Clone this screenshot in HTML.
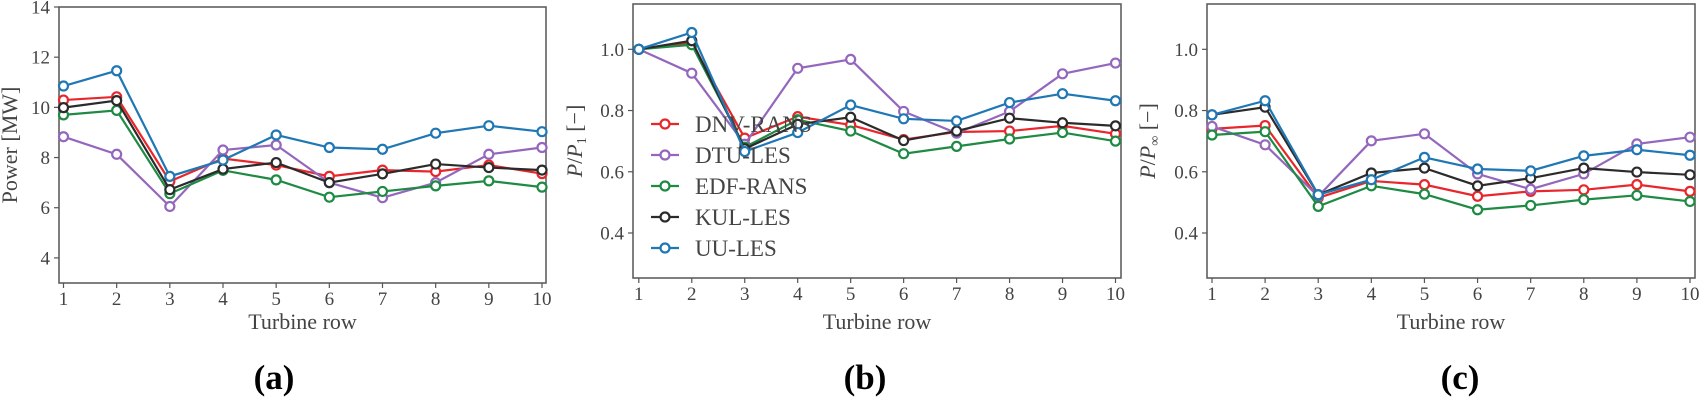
<!DOCTYPE html>
<html><head><meta charset="utf-8">
<style>
html,body{margin:0;padding:0;background:#fff;}
svg{display:block;font-family:"Liberation Serif","DejaVu Serif",serif;}
</style></head>
<body>
<svg id="fig" width="1706" height="408" viewBox="0 0 1706 408" xmlns="http://www.w3.org/2000/svg"></svg>
<script>
const rows = [1,2,3,4,5,6,7,8,9,10];
const seriesNames = ["DNV-RANS","DTU-LES","EDF-RANS","KUL-LES","UU-LES"];
const seriesColors = ["#e8262b","#9467bd","#1e8a44","#2b2b2b","#1f77b4"];
// panel (a): Power [MW]
const powerDNV = [10.29,10.42,7.05,7.96,7.7,7.25,7.5,7.44,7.7,7.36];
const powerDTU = [8.83,8.13,6.05,8.3,8.5,7.0,6.4,7.0,8.13,8.4];
const powerEDF = [9.7,9.88,6.56,7.49,7.11,6.42,6.65,6.87,7.07,6.82];
const powerKUL = [9.99,10.27,6.72,7.54,7.8,7.0,7.35,7.74,7.6,7.5];
const powerUU  = [10.85,11.46,7.25,7.9,8.9,8.4,8.33,8.97,9.27,9.03];
// panel (b): P/P1
const p1DNV = [1.0,1.02,0.71,0.78,0.753,0.705,0.73,0.733,0.75,0.724];
const p1DTU = [1.0,0.922,0.69,0.938,0.967,0.797,0.726,0.797,0.92,0.955];
const p1EDF = [1.0,1.015,0.68,0.77,0.733,0.659,0.683,0.707,0.728,0.70];
const p1KUL = [1.0,1.028,0.675,0.755,0.778,0.702,0.733,0.775,0.76,0.75];
const p1UU  = [1.0,1.055,0.666,0.728,0.818,0.773,0.766,0.826,0.855,0.832];
// panel (c): P/Pinf
const pinfDNV = [0.74,0.751,0.515,0.57,0.558,0.52,0.536,0.541,0.558,0.536];
const pinfDTU = [0.748,0.688,0.52,0.701,0.724,0.593,0.543,0.593,0.691,0.713];
const pinfEDF = [0.72,0.731,0.487,0.554,0.527,0.476,0.49,0.509,0.523,0.503];
const pinfKUL = [0.786,0.811,0.525,0.596,0.612,0.554,0.579,0.612,0.599,0.59];
const pinfUU  = [0.786,0.832,0.525,0.574,0.647,0.609,0.603,0.652,0.672,0.654];
const ticksA = [4,6,8,10,12,14];
const ticksB = [0.4,0.6,0.8,1.0];
const tickLabelsB = ["0.4","0.6","0.8","1.0"];

const NS="http://www.w3.org/2000/svg";
const svg=document.getElementById('fig');
function mk(tag,attrs,parent){const e=document.createElementNS(NS,tag);for(const k in attrs)e.setAttribute(k,attrs[k]);(parent||svg).appendChild(e);return e;}

function panel(cfg){
  const g=mk('g',{});
  
  
  const xS=v=>cfg.x1+(v-1)*(cfg.x10-cfg.x1)/9;
  const yS=v=>cfg.bottom-(v-cfg.ymin)*(cfg.bottom-cfg.top)/(cfg.ymax-cfg.ymin);
  const box=mk('rect',{x:cfg.left,y:cfg.top,width:cfg.right-cfg.left,height:cfg.bottom-cfg.top,fill:'none',stroke:'#555','stroke-width':1.5},g);
  
  
  rows.forEach(r=>{
    mk('line',{x1:xS(r),x2:xS(r),y1:cfg.bottom,y2:cfg.bottom+5,stroke:'#555','stroke-width':1.2},g);
    const t=mk('text',{x:xS(r),y:cfg.bottom+22,'font-size':19,'text-anchor':'middle',fill:'#444'},g);
    t.textContent=r;
    
    
  });
  cfg.ticks.forEach((v,i)=>{
    mk('line',{x1:cfg.left-5,x2:cfg.left,y1:yS(v),y2:yS(v),stroke:'#555','stroke-width':1.2},g);
    const t=mk('text',{x:cfg.left-9,y:yS(v)+6.5,'font-size':19,'text-anchor':'end',fill:'#444'},g);
    t.textContent=cfg.tickLabels[i];
    
    
  });
  const xl=mk('text',{x:(cfg.left+cfg.right)/2,y:329,'font-size':22,'text-anchor':'middle',fill:'#444'},g);
  xl.textContent='Turbine row';
  
  
  const yc=(cfg.top+cfg.bottom)/2;
  const yl=mk('text',{x:cfg.ylx,y:yc,'font-size':22,'text-anchor':'middle',fill:'#444',transform:`rotate(-90 ${cfg.ylx} ${yc})`},g);
  yl.innerHTML=cfg.ylabel;
  
  
  cfg.data.forEach((arr,si)=>{
    const pts=arr.map((v,i)=>xS(rows[i])+','+yS(v)).join(' ');
    const pl=mk('polyline',{points:pts,fill:'none',stroke:seriesColors[si],'stroke-width':2.2},g);
    
    
    arr.forEach((v,i)=>{
      const c=mk('circle',{cx:xS(rows[i]),cy:yS(v),r:4.5,fill:'#fff',stroke:seriesColors[si],'stroke-width':2.2},g);
      
      
    });
  });
  const lab=mk('text',{x:cfg.labelX,y:389,'font-size':35,'font-weight':'bold','text-anchor':'middle',fill:'#000'},g);
  lab.textContent=cfg.label;
  
  
  return {g,xS,yS};
}

panel({name:'panel-a-power',left:59,right:546,top:7,bottom:283,x1:63.5,x10:542,ymin:3,ymax:14.0,
  ticks:ticksA,tickLabels:ticksA.map(String),ylabel:'Power [MW]',ylx:17,labelX:274,label:'(a)',
  data:[powerDNV,powerDTU,powerEDF,powerKUL,powerUU]});
panel({name:'panel-b-normalized-first-row',left:633,right:1121,top:4,bottom:278,x1:638.8,x10:1115.5,ymin:0.253,ymax:1.148,
  ticks:ticksB,tickLabels:tickLabelsB,ylabel:'<tspan font-style="italic">P</tspan>/<tspan font-style="italic">P</tspan><tspan font-size="14" dy="4">1</tspan><tspan dy="-4"> [−]</tspan>',ylx:582,labelX:865,label:'(b)',
  data:[p1DNV,p1DTU,p1EDF,p1KUL,p1UU]});
panel({name:'panel-c-normalized-freestream',left:1207,right:1695,top:4,bottom:278,x1:1212,x10:1690,ymin:0.253,ymax:1.148,
  ticks:ticksB,tickLabels:tickLabelsB,ylabel:'<tspan font-style="italic">P</tspan>/<tspan font-style="italic">P</tspan><tspan font-size="14" dy="4">∞</tspan><tspan dy="-4"> [−]</tspan>',ylx:1155,labelX:1460,label:'(c)',
  data:[pinfDNV,pinfDTU,pinfEDF,pinfKUL,pinfUU]});

// legend in panel b
const lg=mk('g',{});


seriesNames.forEach((n,i)=>{
  const y=124+i*31;
  const e=mk('g',{},lg);
  
  
  mk('line',{x1:651,x2:679,y1:y,y2:y,stroke:seriesColors[i],'stroke-width':2.2},e);
  mk('circle',{cx:665,cy:y,r:4.5,fill:'#fff',stroke:seriesColors[i],'stroke-width':2.2},e);
  const t=mk('text',{x:695,y:y+8,'font-size':23,fill:'#444'},e);
  t.textContent=n;
});
</script>
</body></html>
